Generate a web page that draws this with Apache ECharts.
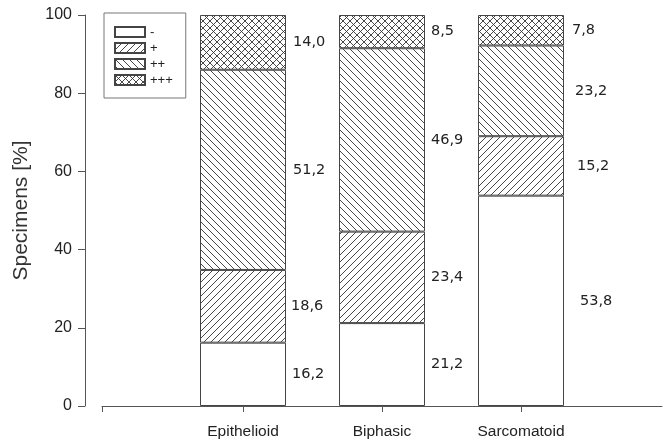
<!DOCTYPE html>
<html>
<head>
<meta charset="utf-8">
<script src="https://cdn.jsdelivr.net/npm/echarts@6/dist/echarts.min.js"></script>
<style>
html,body{margin:0;padding:0;background:#fff;}
#chart{width:667px;height:443px;}
</style>
</head>
<body>
<div id="chart"></div>
<script>
const categories = ['Epithelioid', 'Biphasic', 'Sarcomatoid'];
const levels = ['-', '+', '++', '+++'];
const negValues = [16.2, 21.2, 53.8];
const plusValues = [18.6, 23.4, 15.2];
const plus2Values = [51.2, 46.9, 23.2];
const plus3Values = [14.0, 8.5, 7.8];
const yMin = 0, yMax = 100, yInterval = 20;

// label distance to the right of each bar (style), per level x category
const labelDist = [
  [6, 6, 16],
  [5, 6, 13],
  [7, 6, 11],
  [7, 6, 8]
];

function makePattern(kind) {
  const s = 7;
  const c = document.createElement('canvas');
  c.width = s; c.height = s;
  const ctx = c.getContext('2d');
  ctx.fillStyle = '#fff';
  ctx.fillRect(0, 0, s, s);
  ctx.strokeStyle = '#333';
  ctx.lineWidth = 0.9;
  function fwd() {
    ctx.beginPath();
    ctx.moveTo(0, s); ctx.lineTo(s, 0);
    ctx.moveTo(-1, 1); ctx.lineTo(1, -1);
    ctx.moveTo(s - 1, s + 1); ctx.lineTo(s + 1, s - 1);
    ctx.stroke();
  }
  function back() {
    ctx.beginPath();
    ctx.moveTo(0, 0); ctx.lineTo(s, s);
    ctx.moveTo(-1, s - 1); ctx.lineTo(1, s + 1);
    ctx.moveTo(s - 1, -1); ctx.lineTo(s + 1, 1);
    ctx.stroke();
  }
  if (kind === 'fwd') fwd();
  if (kind === 'back') back();
  if (kind === 'cross') { fwd(); back(); }
  return { image: c, repeat: 'repeat' };
}

const fills = ['#ffffff', makePattern('fwd'), makePattern('back'), makePattern('cross')];
const seriesValues = [negValues, plusValues, plus2Values, plus3Values];
const font = 'Liberation Sans';

const series = levels.map((name, i) => ({
  name: name,
  type: 'bar',
  stack: 'total',
  xAxisIndex: 0,
  yAxisIndex: 0,
  barWidth: 86,
  itemStyle: { color: fills[i], borderColor: '#444', borderWidth: 1 },
  data: seriesValues[i].map((v, j) => ({
    value: v,
    label: { distance: labelDist[i][j] }
  })),
  label: {
    show: true,
    position: 'right',
    color: '#222',
    fontFamily: 'DejaVu Sans',
    fontSize: 14.5,
    formatter: p => p.value.toFixed(1).replace('.', ',')
  }
}));

const chart = echarts.init(document.getElementById('chart'), null, { renderer: 'canvas' });
chart.setOption({
  animation: false,
  backgroundColor: '#fff',
  legend: {
    data: levels,
    orient: 'vertical',
    left: 104,
    top: 13,
    itemWidth: 30,
    itemHeight: 10,
    itemGap: 0,
    padding: [11, 13, 10, 10],
    borderColor: '#777',
    borderWidth: 1,
    icon: 'rect',
    textStyle: { fontSize: 13, lineHeight: 16, color: '#222', fontFamily: font }
  },
  grid: [
    { left: 173.5, right: 76.5, top: 15, bottom: 37 },
    { left: 102, right: 5, top: 15, bottom: 37 }
  ],
  xAxis: [
    {
      type: 'category',
      gridIndex: 0,
      data: categories,
      boundaryGap: true,
      axisLine: { show: false },
      axisTick: { show: true, alignWithLabel: true, length: 6, lineStyle: { color: '#555' } },
      axisLabel: { fontSize: 15.5, color: '#222', margin: 18, fontFamily: font },
      splitLine: { show: false }
    },
    {
      type: 'value',
      gridIndex: 1,
      min: 0,
      max: 1,
      axisLine: { show: true, lineStyle: { color: '#555', width: 1 } },
      axisTick: { show: true, customValues: [0], length: 6, lineStyle: { color: '#555' } },
      axisLabel: { show: false },
      splitLine: { show: false }
    }
  ],
  yAxis: [
    {
      type: 'value',
      gridIndex: 0,
      min: yMin,
      max: yMax,
      interval: yInterval,
      offset: 88.5,
      name: 'Specimens [%]',
      nameLocation: 'middle',
      nameGap: 53,
      nameTextStyle: { fontSize: 21, color: '#333', fontFamily: font },
      axisLine: { show: true, lineStyle: { color: '#555', width: 1 } },
      axisTick: { show: true, length: 7, lineStyle: { color: '#555' } },
      axisLabel: { fontSize: 16, color: '#222', margin: 13, fontFamily: font },
      splitLine: { show: false }
    },
    {
      type: 'value',
      gridIndex: 1,
      min: yMin,
      max: yMax,
      show: false
    }
  ],
  series: series
});
</script>
</body>
</html>
